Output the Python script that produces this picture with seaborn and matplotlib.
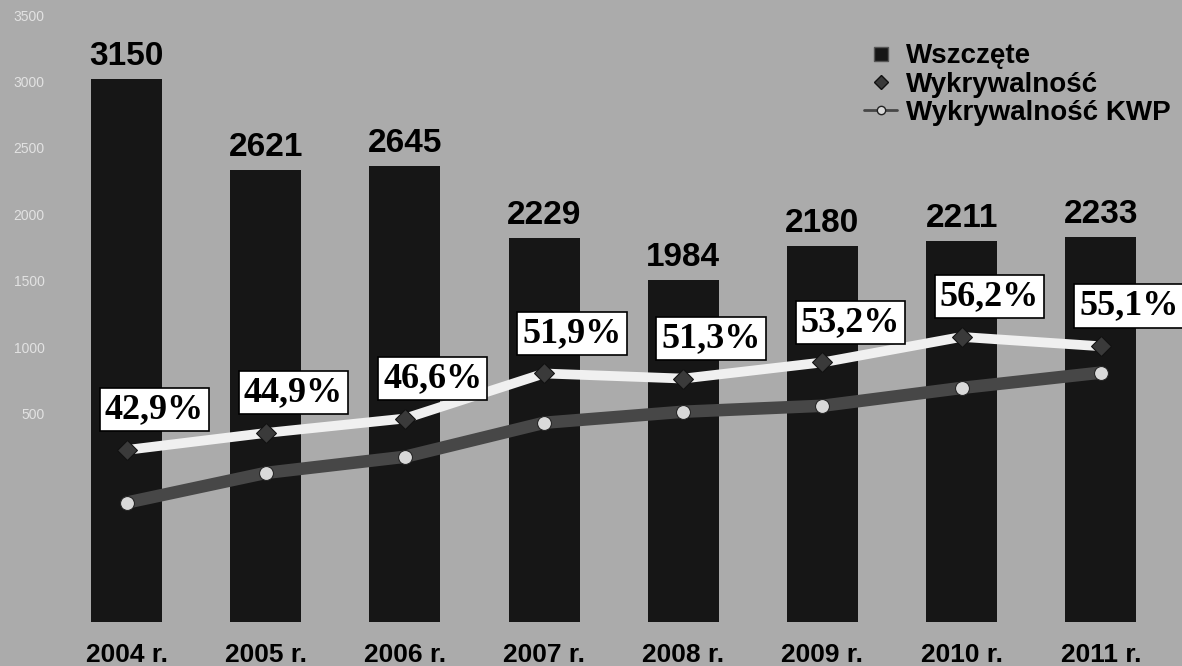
import numpy as np
import pandas as pd
import matplotlib
matplotlib.use("Agg")
import matplotlib.pyplot as plt
import seaborn as sns
from matplotlib.lines import Line2D

# data
years = ["2004 r.", "2005 r.", "2006 r.", "2007 r.", "2008 r.", "2009 r.", "2010 r.", "2011 r."]
cases = [3150, 2621, 2645, 2229, 1984, 2180, 2211, 2233]
detect = [42.9, 44.9, 46.6, 51.9, 51.3, 53.2, 56.2, 55.1]
detect_kwp = [36.7, 40.2, 42.1, 46.1, 47.4, 48.1, 50.2, 52.0]
faint_ticks = [500, 1000, 1500, 2000, 2500, 3000, 3500]

bg = "#ababab"
bar_col = "#161616"
line_col = "#f0f0f0"
kwp_col = "#474747"

sns.set_theme(style="white", rc={"axes.facecolor": bg, "figure.facecolor": bg,
                                 "text.color": "black", "xtick.color": "black"})
plt.rcParams["font.family"] = ["Liberation Sans", "DejaVu Sans"]

fig = plt.figure(figsize=(11.82, 6.66), dpi=100)
ax = fig.add_axes([0, 44 / 666, 1, 622 / 666])

df = pd.DataFrame({"rok": years, "wszczete": cases})
sns.barplot(data=df, x="rok", y="wszczete", color=bar_col, saturation=1,
            width=0.51, linewidth=0, edgecolor=bar_col, ax=ax)
ax.set_ylim(0, 3608)
ax.bar_label(ax.containers[0], padding=5, fontsize=24, fontweight="bold",
             color="black")
ax.set_xlabel("")
ax.set_ylabel("")
ax.set_yticks([])
ax.tick_params(axis="x", length=0, pad=15, labelsize=19, labelcolor="black")
for lab in ax.get_xticklabels():
    lab.set_fontweight("bold")
for s in ax.spines.values():
    s.set_visible(False)

# faint axis numbers at the left edge
ax3 = ax.twinx()
ax3.set_ylim(-1069, 3614)
ax3.yaxis.set_ticks_position("left")
ax3.set_yticks(faint_ticks)
ax3.tick_params(axis="y", length=0, pad=-32, labelsize=10, labelcolor="#e2e2e2")
for s in ax3.spines.values():
    s.set_visible(False)

# detection rate lines
ax2 = ax.twinx()
pos = np.arange(len(years))
sns.lineplot(x=pos, y=detect_kwp, ax=ax2, color=kwp_col, lw=9, marker="o",
             ms=10, mfc="#d9d9d9", mec="#222222", zorder=3)
sns.lineplot(x=pos, y=detect, ax=ax2, color=line_col, lw=7, marker="D",
             ms=10, mfc="#3a3a3a", mec="#111111", zorder=4)
ax2.set_ylim(22.66, 95.84)
ax2.set_yticks([])
ax2.set_ylabel("")
for s in ax2.spines.values():
    s.set_visible(False)

for i, v in enumerate(detect):
    ax2.annotate(f"{v:.1f}%".replace(".", ","), (i, v), xytext=(20, 29),
                 textcoords="offset points", ha="center", va="center",
                 fontsize=26, fontweight="bold", family="Liberation Serif",
                 color="black",
                 bbox=dict(boxstyle="square,pad=0.14", fc="white", ec="black", lw=1.2),
                 zorder=6)

ax.set_xlim(-0.909, 7.583)

handles = [
    Line2D([], [], ls="none", marker="s", ms=10, mfc=bar_col, mec="#555555"),
    Line2D([], [], ls="none", marker="D", ms=7, mfc="#3a3a3a", mec="#111111"),
    Line2D([], [], color=kwp_col, lw=2, marker="o", ms=6, mfc="#d9d9d9", mec="#222222"),
]
leg = fig.legend(handles, ["Wszczęte", "Wykrywalność", "Wykrywalność KWP"],
                 loc="upper left", bbox_to_anchor=(0.731, 0.935), frameon=False,
                 prop={"weight": "bold", "size": 20}, handlelength=1.2,
                 handletextpad=0.3, labelspacing=0.08, borderpad=0, borderaxespad=0)
for t in leg.get_texts():
    t.set_color("black")

fig.savefig("out.png", dpi=100)
